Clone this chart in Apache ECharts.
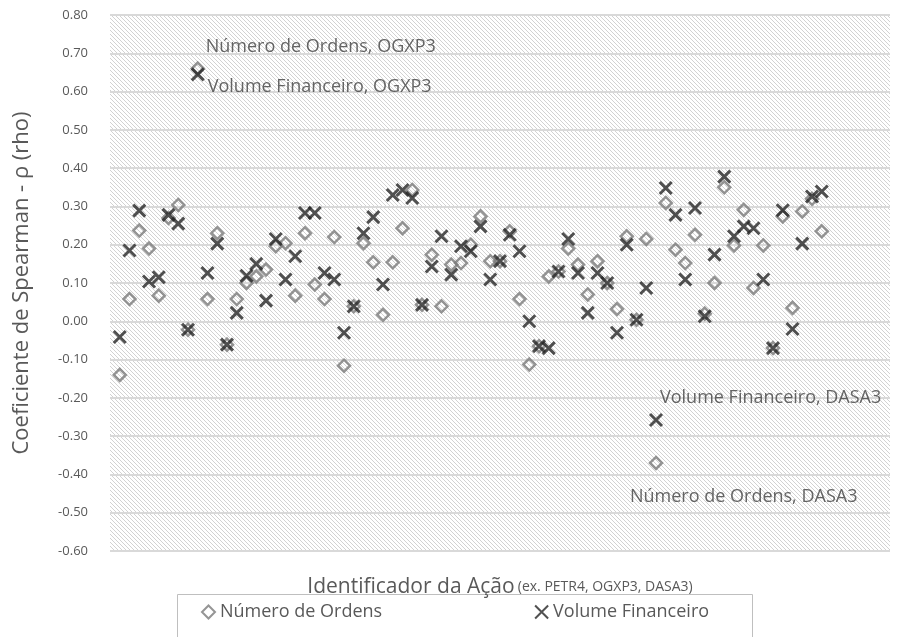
<!DOCTYPE html>
<html>
<head>
<meta charset="utf-8">
<script src="https://cdn.jsdelivr.net/npm/echarts@6.0.0/dist/echarts.min.js"></script>
<style>
  html, body { margin: 0; padding: 0; background: #fff; }
  #chart { width: 900px; height: 637px; }
</style>
</head>
<body>
<div id="chart"></div>
<script>
// Spearman rho per stock (index 1..73)
const numeroOrdens = [
  -0.14, 0.058, 0.237, 0.19, 0.067, 0.27, 0.304, -0.022, 0.66, 0.058,
  0.23, -0.061, 0.058, 0.10, 0.117, 0.135, 0.196, 0.204, 0.067, 0.23,
  0.096, 0.058, 0.22, -0.116, 0.039, 0.204, 0.154, 0.017, 0.154, 0.243,
  0.343, 0.043, 0.174, 0.039, 0.148, 0.152, 0.20, 0.274, 0.157, 0.157,
  0.235, 0.058, -0.113, -0.065, 0.117, 0.13, 0.19, 0.148, 0.07, 0.157,
  0.10, 0.032, 0.222, 0.004, 0.215, -0.37, 0.309, 0.187, 0.152, 0.226,
  0.02, 0.10, 0.35, 0.198, 0.291, 0.087, 0.198, -0.07, 0.274, 0.035,
  0.287, 0.32, 0.235
]
const volumeFinanceiro = [
  -0.041, 0.185, 0.289, 0.104, 0.115, 0.278, 0.255, -0.022, 0.645, 0.126,
  0.203, -0.061, 0.022, 0.119, 0.15, 0.054, 0.215, 0.109, 0.17, 0.283,
  0.283, 0.126, 0.109, -0.03, 0.039, 0.23, 0.272, 0.096, 0.33, 0.343,
  0.322, 0.043, 0.143, 0.222, 0.122, 0.196, 0.183, 0.248, 0.109, 0.157,
  0.226, 0.183, 0.0, -0.065, -0.07, 0.13, 0.215, 0.126, 0.022, 0.126,
  0.10, -0.03, 0.20, 0.004, 0.087, -0.258, 0.348, 0.278, 0.109, 0.296,
  0.013, 0.174, 0.378, 0.222, 0.248, 0.243, 0.109, -0.07, 0.29, -0.02,
  0.203, 0.326, 0.339
]
const seriesNames = ['Número de Ordens', 'Volume Financeiro']
// annotated points: index (1-based) -> label text
const ordensLabels = { 9: 'Número de Ordens, OGXP3', 56: 'Número de Ordens, DASA3' }
const volumeLabels = { 9: 'Volume Financeiro, OGXP3', 56: 'Volume Financeiro, DASA3' }

// diagonal hatch for the plot background
function hatchPattern() {
  const c = document.createElement('canvas')
  c.width = 8
  c.height = 8
  const ctx = c.getContext('2d')
  ctx.fillStyle = '#ffffff'
  ctx.fillRect(0, 0, 8, 8)
  ctx.fillStyle = '#d2d2d2'
  for (let x = 0; x < 8; x++) {
    for (let y = 0; y < 8; y++) {
      if (((x - y) % 4 + 4) % 4 === 0) ctx.fillRect(x, y, 1, 1)
    }
  }
  return { image: c, repeat: 'repeat' }
}

const labelFont = { fontFamily: 'Open Sans', fontSize: 18, color: '#404040' }
const labelOffsets = {
  o9: [8, -22], v9: [10, 13],
  o56: [-26, 34], v56: [4, -22]
}

function buildData(values, labels, prefix) {
  return values.map((v, i) => {
    const idx = i + 1
    const item = { value: [idx, v] }
    if (labels[idx]) {
      item.label = {
        show: true,
        formatter: labels[idx],
        position: 'inside',
        align: 'left',
        verticalAlign: 'middle',
        offset: labelOffsets[prefix + idx],
        ...labelFont
      }
    }
    return item
  })
}

const chart = echarts.init(document.getElementById('chart'), null, { renderer: 'canvas' })

chart.setOption({
  animation: false,
  textStyle: { fontFamily: 'Open Sans' },
  grid: {
    left: 110, right: 10, top: 15, bottom: 86,
    show: true,
    backgroundColor: hatchPattern(),
    borderWidth: 0
  },
  xAxis: {
    type: 'value',
    min: 0,
    max: 80,
    axisLine: { show: false },
    axisTick: { show: false },
    axisLabel: { show: false },
    splitLine: { show: false },
    name: '{a|Identificador da Ação} {b|(ex. PETR4, OGXP3, DASA3)}',
    nameLocation: 'middle',
    nameGap: 26,
    nameTextStyle: {
      rich: {
        a: { fontFamily: 'Open Sans', fontSize: 21, color: '#595959' },
        b: { fontFamily: 'Open Sans', fontSize: 14, color: '#595959' }
      }
    }
  },
  yAxis: {
    type: 'value',
    min: -0.6,
    max: 0.8,
    interval: 0.1,
    axisLine: { show: false },
    axisTick: { show: false },
    axisLabel: {
      color: '#595959',
      fontSize: 13,
      margin: 22,
      formatter: v => v.toFixed(2)
    },
    splitLine: { lineStyle: { color: '#d9d9d9', width: 2 } },
    name: 'Coeficiente de Spearman - ρ (rho)',
    nameLocation: 'middle',
    nameGap: 77,
    nameTextStyle: { fontFamily: 'Open Sans', fontSize: 22, color: '#595959' }
  },
  legend: {
    data: seriesNames,
    left: 196,
    top: 598,
    itemGap: 152,
    itemWidth: 13,
    itemHeight: 13,
    textStyle: { fontFamily: 'Open Sans', fontSize: 18, color: '#595959' }
  },
  graphic: [{
    type: 'rect',
    left: 175,
    top: 592,
    shape: { width: 575, height: 60 },
    style: { fill: 'none', stroke: '#bfbfbf', lineWidth: 1 },
    silent: true
  }],
  series: [
    {
      name: seriesNames[0],
      type: 'scatter',
      symbol: 'diamond',
      symbolSize: 12,
      itemStyle: { color: 'rgba(255,255,255,0)', borderColor: '#7a7a7a', borderWidth: 2.5 },
      data: buildData(numeroOrdens, ordensLabels, 'o'),
      z: 2
    },
    {
      name: seriesNames[1],
      type: 'scatter',
      symbol: 'path://M0,0L10,10M10,0L0,10',
      symbolSize: 12,
      itemStyle: { color: 'rgba(0,0,0,0)', borderColor: '#262626', borderWidth: 3 },
      data: buildData(volumeFinanceiro, volumeLabels, 'v'),
      z: 3
    }
  ]
})
</script>
</body>
</html>
